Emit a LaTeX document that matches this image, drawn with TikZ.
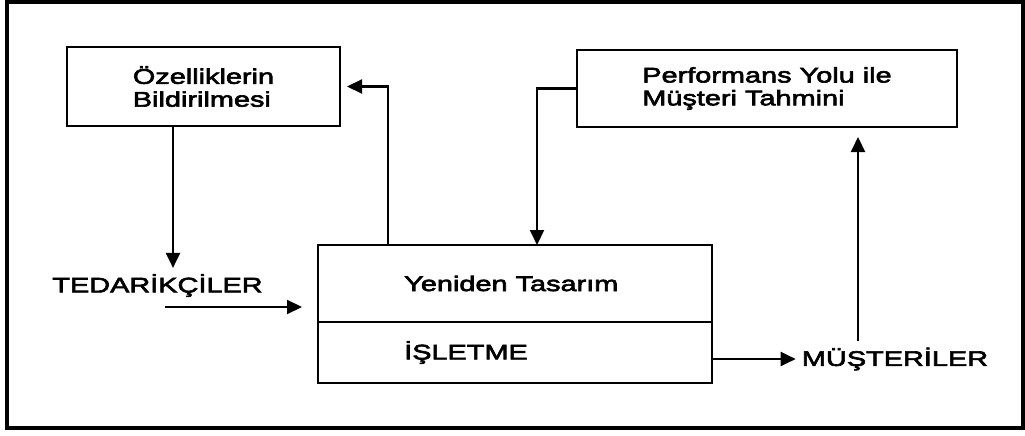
\documentclass[tikz,border=0pt]{standalone}
\usepackage{fontspec}
\setmainfont{Liberation Sans}[FakeStretch=1.37,FakeBold=3]
\usetikzlibrary{arrows.meta,positioning}

\begin{document}
\begin{tikzpicture}[every node/.style={font=\fontsize{12}{13}\selectfont},
        box/.style={draw, line width=1.1pt, inner sep=0pt, outer sep=0pt},
        arr/.style={-{Triangle[length=0.3cm,width=0.28cm]}, line width=1.2pt}]
        \useasboundingbox (0,0) rectangle (20.5,-8.72);
        \draw[line width=1.8pt] (0.14,-0.04) rectangle (20.46,-8.56);

        \node[box, minimum width=5.46cm, minimum height=1.58cm, align=left] (spec) at (4.07,-1.73) {Özelliklerin\\Bildirilmesi};
        \node[box, minimum width=7.6cm, minimum height=1.54cm, align=left] (perf) at (15.34,-1.77) {Performans Yolu ile\\Müşteri Tahmini};
        \node[box, minimum width=7.88cm, minimum height=1.54cm] (redesign) at (10.3,-5.67) {};
        \node[box, minimum width=7.88cm, minimum height=1.22cm, below=0pt of redesign] (ops) {};
        \node[right=1.6cm of redesign.west] (redesigntxt) {Yeniden Tasarım};
        \node[right=1.6cm of ops.west] (opstxt) {İŞLETME};

        \node (sup) at (3.15,-5.71) {TEDARİKÇİLER};
        \node (cust) at (17.9,-7.18) {MÜŞTERİLER};

        \coordinate (specout) at ([xshift=-0.61cm]spec.south);
        \coordinate (supin) at (3.3,-6.14);
        \coordinate (fb) at ([xshift=-2.54cm]redesign.north);
        \coordinate (pf) at ([xshift=0.44cm]redesign.north);
        \coordinate (cup) at ([xshift=-0.74cm]cust.north);

        \draw[arr] (specout) -- (specout |- sup.north);
        \draw[arr, shorten >=0.32cm] (supin) -- (supin -| redesign.west);
        \draw[arr, shorten >=0.14cm] (fb) |- (spec.east);
        \draw[arr] (perf.west) -| (pf);
        \draw[arr] (ops.east |- cust) -- (cust.west);
        \draw[arr, shorten >=0.2cm] (cup) -- (cup |- perf.south);
    \end{tikzpicture}
\end{document}
